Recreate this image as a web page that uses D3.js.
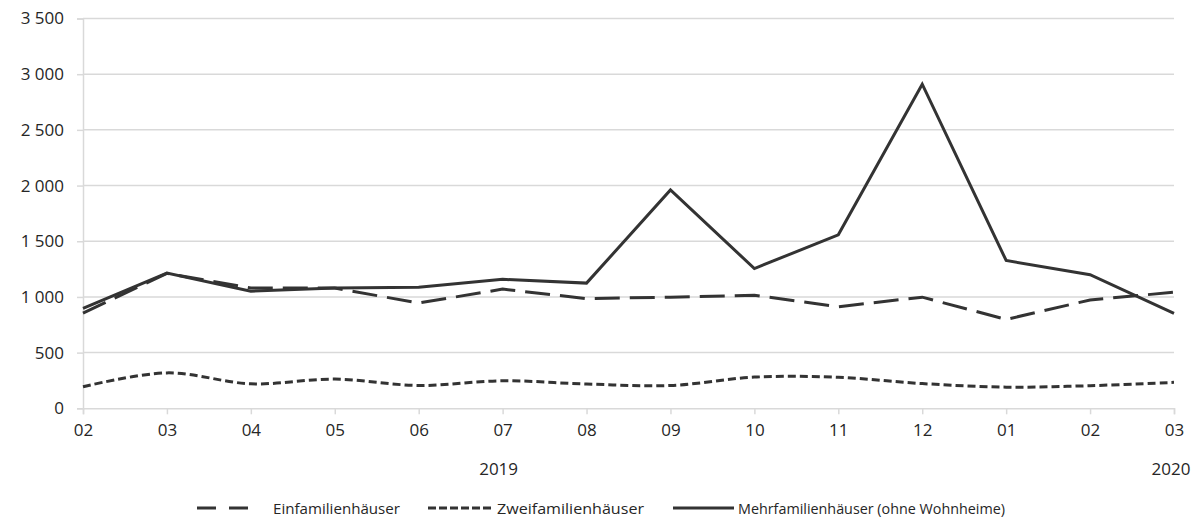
<!DOCTYPE html>
<html>
<head>
<meta charset="utf-8">
<script src="https://cdn.jsdelivr.net/npm/d3@7"></script>
<style>
  html, body { margin: 0; padding: 0; background: #fff; }
  svg { display: block; }
  text { font-family: "Open Sans", "Noto Sans", sans-serif; fill: #262626; }
</style>
</head>
<body>
<svg id="chart" width="1201" height="518"></svg>
<script>
// ---- data ----
const categories = ["02","03","04","05","06","07","08","09","10","11","12","01","02","03"];
const yearLabels = [{ index: 5, label: "2019" }, { index: 13, label: "2020" }];
const einfamilien = [855, 1212, 1080, 1080, 945, 1070, 985, 998, 1015, 912, 998, 798, 973, 1042];
const zweifamilien = [194, 318, 220, 262, 205, 247, 218, 205, 280, 278, 222, 190, 203, 233];
const mehrfamilien = [898, 1214, 1052, 1080, 1086, 1158, 1124, 1960, 1255, 1558, 2910, 1327, 1200, 852];
const yTicks = [0, 500, 1000, 1500, 2000, 2500, 3000, 3500];
const seriesNames = ["Einfamilienhäuser", "Zweifamilienhäuser", "Mehrfamilienhäuser (ohne Wohnheime)"];

// ---- layout ----
const svg = d3.select("#chart");
const pLeft = 83, pRight = 1174, pTop = 18.5, pBottom = 408.3;
const idx = d3.range(categories.length);
const x = d3.scalePoint().domain(idx).range([pLeft, pRight]);
const y = d3.scaleLinear().domain([0, 3500]).range([pBottom, pTop]);
const fmt = v => d3.format(",")(v).replace(/,/g, " ");

const grid = "#d9d9d9";
const ink = "#333333";

// gridlines
svg.append("g").selectAll("line").data(yTicks.filter(t => t > 0)).join("line")
  .attr("x1", pLeft).attr("x2", pRight)
  .attr("y1", d => y(d)).attr("y2", d => y(d))
  .attr("stroke", grid).attr("stroke-width", 1.5);

// y axis
const yAxis = svg.append("g").attr("transform", `translate(${pLeft},0)`)
  .call(d3.axisLeft(y).tickValues(yTicks).tickFormat(fmt).tickSize(6).tickPadding(13));
yAxis.select(".domain").attr("stroke", grid).attr("stroke-width", 1.5);
yAxis.selectAll(".tick line").attr("stroke", grid).attr("stroke-width", 1.5);
yAxis.selectAll(".tick text").attr("font-size", "17px").attr("fill", "#262626")
  .attr("font-family", "Open Sans, sans-serif");

// x axis
const xAxis = svg.append("g").attr("transform", `translate(0,${pBottom})`)
  .call(d3.axisBottom(x).tickFormat(i => categories[i]).tickSize(6).tickPadding(10));
xAxis.select(".domain").attr("stroke", grid).attr("stroke-width", 1.5);
xAxis.selectAll(".tick line").attr("stroke", grid).attr("stroke-width", 1.5);
xAxis.selectAll(".tick text").attr("font-size", "17px").attr("fill", "#262626")
  .attr("font-family", "Open Sans, sans-serif");

// year labels
svg.append("g").selectAll("text").data(yearLabels).join("text")
  .attr("x", d => x(d.index) - (d.index === 13 ? 3 : 4))
  .attr("y", 475)
  .attr("text-anchor", "middle")
  .attr("font-size", "17px")
  .text(d => d.label);

// lines
const straight = d3.line().x((d, i) => x(i)).y(d => y(d));
const smooth = d3.line().x((d, i) => x(i)).y(d => y(d)).curve(d3.curveCatmullRom.alpha(0.5));

svg.append("path").datum(einfamilien).attr("d", straight)
  .attr("fill", "none").attr("stroke", ink).attr("stroke-width", 3)
  .attr("stroke-dasharray", "25,10");
svg.append("path").datum(zweifamilien).attr("d", smooth)
  .attr("fill", "none").attr("stroke", ink).attr("stroke-width", 3)
  .attr("stroke-dasharray", "8,4");
svg.append("path").datum(mehrfamilien).attr("d", straight)
  .attr("fill", "none").attr("stroke", ink).attr("stroke-width", 3)
  .attr("stroke-linejoin", "miter");

// legend
const legendY = 508;
const legendItems = [
  { name: seriesNames[0], x1: 197, x2: 257, dash: "19,13", tx: 273, tw: 127 },
  { name: seriesNames[1], x1: 428, x2: 492, dash: "8,3", tx: 497, tw: 147 },
  { name: seriesNames[2], x1: 673, x2: 734, dash: null, tx: 738, tw: 267 }
];
const lg = svg.append("g").selectAll("g").data(legendItems).join("g");
lg.append("line")
  .attr("x1", d => d.x1).attr("x2", d => d.x2)
  .attr("y1", legendY).attr("y2", legendY)
  .attr("stroke", ink).attr("stroke-width", 3)
  .attr("stroke-dasharray", d => d.dash);
lg.append("text")
  .attr("x", d => d.tx).attr("y", legendY + 6)
  .attr("font-size", "15px")
  .attr("textLength", d => d.tw)
  .attr("lengthAdjust", "spacingAndGlyphs")
  .text(d => d.name);
</script>
</body>
</html>
